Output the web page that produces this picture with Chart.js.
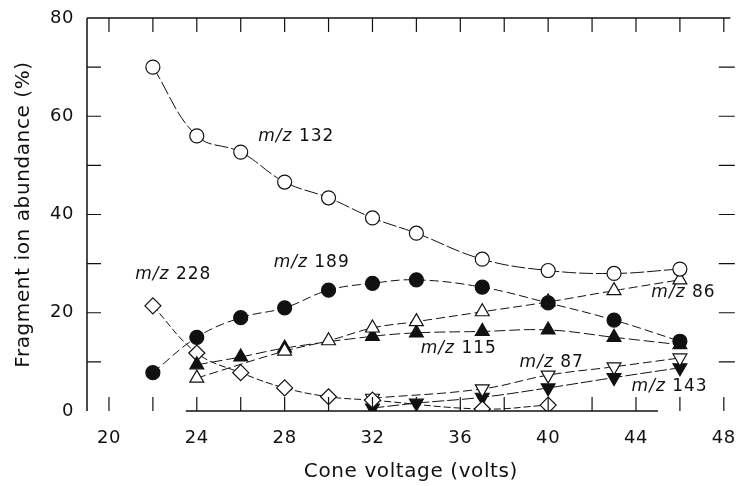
<!DOCTYPE html>
<html>
<head>
<meta charset="utf-8">
<script src="https://cdn.jsdelivr.net/npm/chart.js@4/dist/chart.umd.min.js"></script>
<style>
    html, body { margin: 0; padding: 0; background: #fff; }
    #wrap { width: 744px; height: 486px; }
</style>
</head>
<body>
<div id="wrap"><canvas id="fragment-chart" width="744" height="486"></canvas></div>
<script>
// cone voltage (volts) and fragment ion abundance (%) per ion
const v132 = [22, 24, 26, 28, 30, 32, 34, 37, 40, 43, 46];
const ab132 = [70, 56, 52.7, 46.6, 43.4, 39.3, 36.2, 30.9, 28.6, 28, 28.9];

const v189 = [22, 24, 26, 28, 30, 32, 34, 37, 40, 43, 46];
const ab189 = [7.8, 15, 19, 21, 24.6, 26, 26.7, 25.2, 22, 18.5, 14.2];

const v86 = [24, 28, 30, 32, 34, 37, 40, 43, 46];
const ab86 = [6.7, 12.2, 14.3, 16.9, 18.2, 20.2, 22.2, 24.5, 26.7];

const v115 = [24, 26, 28, 32, 34, 37, 40, 43, 46];
const ab115 = [9.4, 11, 12.8, 15.2, 15.9, 16.2, 16.5, 15, 13.5];

const v228 = [22, 24, 26, 28, 30, 32, 37, 40];
const ab228 = [21.4, 11.8, 7.8, 4.7, 2.9, 2.2, 0.4, 1.2];

const v87 = [32, 37, 40, 43, 46];
const ab87 = [2.6, 4.5, 7.3, 9, 10.8];

const v143 = [32, 34, 37, 40, 43, 46];
const ab143 = [0.6, 1.6, 2.8, 4.7, 6.8, 8.8];

const xTicks = [20, 24, 28, 32, 36, 40, 44, 48];
const yTicks = [0, 20, 40, 60, 80];

// ion labels, anchored in data units (left edge, vertical middle)
const ionNames = ['132', '228', '189', '115', '86', '87', '143'];
const ionLabelX = [26.8, 21.2, 27.5, 34.2, 44.7, 38.7, 43.8];
const ionLabelY = [55.8, 27.8, 30.3, 12.8, 24.2, 9.8, 4.9];

const FONT = '"DejaVu Sans", Verdana, sans-serif';

function pts(xs, ys) {
    return xs.map((x, i) => ({x: x, y: ys[i]}));
}

function series(xs, ys, style, filled, dash, rotation) {
    return {
        data: pts(xs, ys),
        borderColor: '#111',
        borderWidth: 1,
        borderDash: dash,
        pointStyle: style,
        pointRotation: rotation || 0,
        pointRadius: style === 'circle' ? 7 : 8,
        pointBorderWidth: 1.2,
        pointBorderColor: '#111',
        pointBackgroundColor: filled ? '#111' : '#fff',
        tension: 0.4,
        fill: false
    };
}

// wide lettering for axis texts
const spacingPlugin = {
    id: 'spacing',
    beforeLayout(chart) { chart.ctx.letterSpacing = '0.6px'; },
    beforeDraw(chart) { chart.ctx.letterSpacing = '0.6px'; }
};

// frame, inward tick marks and ion labels
const framePlugin = {
    id: 'frame',
    afterDatasetsDraw(chart) {
        const ctx = chart.ctx;
        const a = chart.chartArea;
        const xs = chart.scales.x, ys = chart.scales.y;
        ctx.save();
        ctx.strokeStyle = '#111';
        ctx.lineWidth = 1.5;
        ctx.beginPath();
        ctx.moveTo(a.left, a.top);
        ctx.lineTo(a.left, a.bottom);
        ctx.moveTo(a.left, a.top);
        ctx.lineTo(xs.getPixelForValue(48.3), a.top);
        ctx.moveTo(xs.getPixelForValue(23.5), a.bottom);
        ctx.lineTo(xs.getPixelForValue(45), a.bottom);
        ctx.stroke();

        ctx.lineWidth = 1.2;
        ctx.beginPath();
        for (let v = 20; v <= 48; v += 2) {
            const px = xs.getPixelForValue(v);
            ctx.moveTo(px, a.top);
            ctx.lineTo(px, a.top + 14);
            ctx.moveTo(px, a.bottom);
            ctx.lineTo(px, a.bottom - 14);
        }
        for (let v = 10; v < 80; v += 10) {
            const py = ys.getPixelForValue(v);
            ctx.moveTo(a.left, py);
            ctx.lineTo(a.left + 14, py);
            ctx.moveTo(a.right, py);
            ctx.lineTo(a.right - 16, py);
        }
        ctx.stroke();

        ctx.fillStyle = '#111';
        ctx.letterSpacing = '1px';
        ctx.textBaseline = 'middle';
        ctx.textAlign = 'left';
        ionNames.forEach((name, i) => {
            let px = xs.getPixelForValue(ionLabelX[i]);
            const py = ys.getPixelForValue(ionLabelY[i]);
            ctx.font = 'oblique 17px ' + FONT;
            ctx.fillText('m/z', px, py);
            px += ctx.measureText('m/z').width;
            ctx.font = '17px ' + FONT;
            ctx.fillText(' ' + name, px, py);
        });
        ctx.restore();
    }
};

const config = {
    type: 'line',
    data: {
        datasets: [
            series(v132, ab132, 'circle', false, [14, 3]),
            series(v189, ab189, 'circle', true, [9, 4]),
            series(v86, ab86, 'triangle', false, [9, 4]),
            series(v115, ab115, 'triangle', true, [11, 4]),
            series(v228, ab228, 'rectRot', false, [7, 3]),
            series(v87, ab87, 'triangle', false, [9, 4], 180),
            series(v143, ab143, 'triangle', true, [12, 3], 180)
        ]
    },
    options: {
        responsive: false,
        animation: false,
        layout: {padding: {top: 18, right: 0, left: 0, bottom: 0}},
        plugins: {
            legend: {display: false},
            tooltip: {enabled: false}
        },
        scales: {
            x: {
                type: 'linear',
                min: 19,
                max: 48.5,
                afterBuildTicks: s => { s.ticks = xTicks.map(v => ({value: v})); },
                afterFit: s => { s.height = 75; s.paddingLeft = 0; s.paddingRight = 0; },
                grid: {display: false, drawTicks: false},
                border: {display: false},
                ticks: {color: '#111', font: {family: FONT, size: 18}, padding: 17},
                title: {
                    display: true,
                    text: 'Cone voltage (volts)',
                    color: '#111',
                    font: {family: FONT, size: 20},
                    padding: {top: 0, bottom: 2}
                }
            },
            y: {
                min: 0,
                max: 80,
                afterBuildTicks: s => { s.ticks = yTicks.map(v => ({value: v})); },
                afterFit: s => { s.width = 87; s.paddingTop = 0; s.paddingBottom = 0; },
                grid: {display: false, drawTicks: false},
                border: {display: false},
                ticks: {color: '#111', font: {family: FONT, size: 18}, padding: 13},
                title: {
                    display: true,
                    text: 'Fragment ion abundance (%)',
                    color: '#111',
                    font: {family: FONT, size: 20},
                    padding: {top: 12, bottom: 0}
                }
            }
        }
    },
    plugins: [spacingPlugin, framePlugin]
};

new Chart(document.getElementById('fragment-chart').getContext('2d'), config);
</script>
</body>
</html>
